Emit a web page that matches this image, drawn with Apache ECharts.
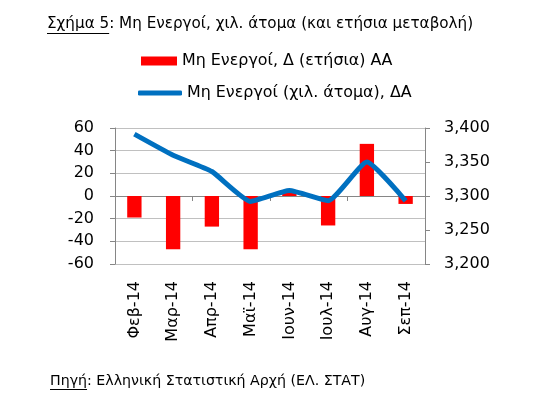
<!DOCTYPE html>
<html><head><meta charset="utf-8">
<script src="https://cdn.jsdelivr.net/npm/echarts@6/dist/echarts.min.js"></script>
<style>html,body{margin:0;padding:0;background:#fff}#c{width:541px;height:399px}</style>
</head><body><div id="c"></div>
<script>
const categories = ['Φεβ-14','Μαρ-14','Απρ-14','Μαϊ-14','Ιουν-14','Ιουλ-14','Αυγ-14','Σεπ-14'];
const annualChange = [-19, -47, -27, -47, 3, -26, 46, -7];
const inactive = [3391, 3360, 3336, 3292, 3308, 3293, 3350, 3293];
const leftTicks = [-60, 60, 20];
const rightTicks = [3200, 3400, 50];
const barName = 'Μη Ενεργοί, Δ (ετήσια) ΑΑ';
const lineName = 'Μη Ενεργοί (χιλ. άτομα), ΔΑ';
const titleUnder = 'Σχήμα 5';
const titleRest = ': Μη Ενεργοί, χιλ. άτομα (και ετήσια μεταβολή)';
const srcUnder = 'Πηγή';
const srcRest = ': Ελληνική Στατιστική Αρχή (ΕΛ. ΣΤΑΤ)';

const FONT = 'DejaVu Sans';
const ctx = document.createElement('canvas').getContext('2d');
function w(t, size){ ctx.font = size + 'px "' + FONT + '"'; return ctx.measureText(t).width; }
function fit(t, target){ return Math.round(100 * target / w(t, 100) * 10) / 10; }

const TS = fit(titleUnder + titleRest, 426), tx = 47, tBase = 29;
const SS = fit(srcUnder + srcRest, 315), sx = 50, sBase = 385;
const LS = fit(barName, 210);
const chart = echarts.init(document.getElementById('c'));
chart.setOption({
  animation: false,
  textStyle: { fontFamily: FONT },
  graphic: [
    { type: 'text', x: tx, y: tBase + 3, style: { text: titleUnder + titleRest, font: TS + 'px "' + FONT + '"', fill: '#000', verticalAlign: 'bottom' } },
    { type: 'line', shape: { x1: tx, y1: tBase + 4.5, x2: tx + w(titleUnder, TS), y2: tBase + 4.5 }, style: { stroke: '#000', lineWidth: 1 } },
    { type: 'text', x: sx, y: sBase + 3, style: { text: srcUnder + srcRest, font: SS + 'px "' + FONT + '"', fill: '#000', verticalAlign: 'bottom' } },
    { type: 'line', shape: { x1: sx, y1: sBase + 4.5, x2: sx + w(srcUnder, SS), y2: sBase + 4.5 }, style: { stroke: '#000', lineWidth: 1 } }
  ],
  legend: [
    { data: [barName], left: 141, top: 53, padding: 0, itemWidth: 36, itemHeight: 9, itemGap: 6, icon: 'rect',
      textStyle: { fontSize: LS, color: '#000', fontFamily: FONT } },
    { data: [lineName], left: 138, top: 85, padding: 0, itemWidth: 44, itemHeight: 5, itemGap: 1, icon: 'roundRect',
      textStyle: { fontSize: LS, color: '#000', fontFamily: FONT } }
  ],
  grid: { left: 115, right: 116, top: 128, bottom: 135 },
  xAxis: [
    { type: 'category', data: categories, axisLine: { onZero: true, lineStyle: { color: '#868686' } },
      axisTick: { show: true, inside: false, length: 5, lineStyle: { color: '#868686' } },
      axisLabel: { show: false }, splitLine: { show: false } },
    { type: 'category', data: categories, position: 'bottom', axisLine: { show: false, onZero: false },
      axisTick: { show: false },
      axisLabel: { rotate: 90, margin: 17, fontSize: 16, color: '#000', fontFamily: FONT } }
  ],
  yAxis: [
    { type: 'value', min: leftTicks[0], max: leftTicks[1], interval: leftTicks[2],
      axisLine: { show: true, lineStyle: { color: '#868686' } },
      axisTick: { show: true, length: 5, lineStyle: { color: '#868686' } },
      axisLabel: { fontSize: 16, color: '#000', margin: 21, fontFamily: FONT },
      splitLine: { lineStyle: { color: '#c0c0c0' } } },
    { type: 'value', min: rightTicks[0], max: rightTicks[1], interval: rightTicks[2], position: 'right',
      axisLine: { show: true, lineStyle: { color: '#868686' } },
      axisTick: { show: true, length: 5, lineStyle: { color: '#868686' } },
      axisLabel: { fontSize: 16, color: '#000', margin: 19, fontFamily: FONT,
        formatter: v => v.toLocaleString('en-US') },
      splitLine: { show: false } }
  ],
  series: [
    { name: barName, type: 'bar', data: annualChange, xAxisIndex: 0, yAxisIndex: 0, barWidth: '37%',
      itemStyle: { color: '#ff0000' } },
    { name: lineName, type: 'line', data: inactive, xAxisIndex: 0, yAxisIndex: 1, symbol: 'none',
      smooth: 0.15, lineStyle: { color: '#0070c0', width: 5 }, itemStyle: { color: '#0070c0' } }
  ]
});
</script></body></html>
